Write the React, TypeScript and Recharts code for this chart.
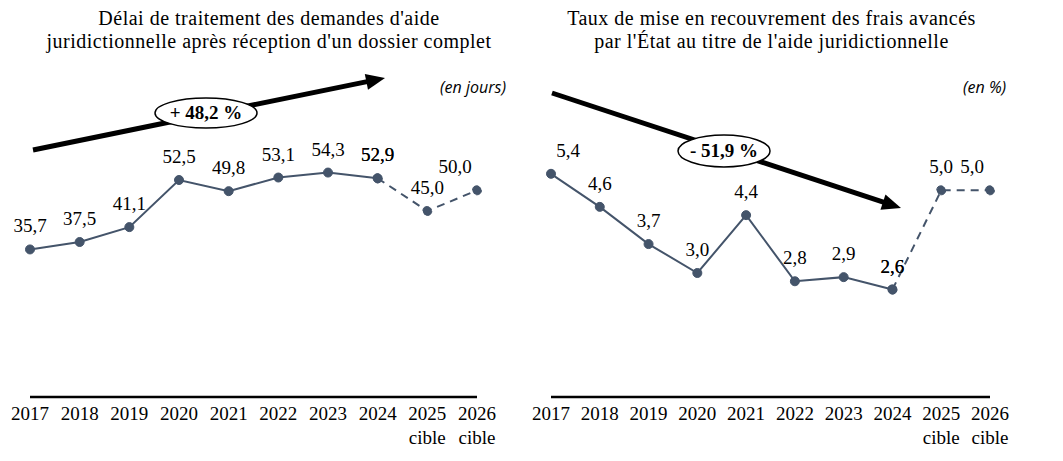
import React from "react";
import { LineChart, Line, XAxis, YAxis, LabelList } from "recharts";

// categories (second word goes on a second line)
const years = ["2017", "2018", "2019", "2020", "2021", "2022", "2023", "2024", "2025 cible", "2026 cible"];

// délai de traitement (en jours)
const delaiReal = [35.7, 37.5, 41.1, 52.5, 49.8, 53.1, 54.3, 52.9, null, null];
const delaiCible = [null, null, null, null, null, null, null, 52.9, 45.0, 50.0];

// taux de mise en recouvrement (en %)
const tauxReal = [5.4, 4.6, 3.7, 3.0, 4.4, 2.8, 2.9, 2.6, null, null];
const tauxCible = [null, null, null, null, null, null, null, 2.6, 5.0, 5.0];

const COLOR = "#44546A";
const SERIF = "'Liberation Serif', 'Times New Roman', serif";
const SANS = "'Open Sans', 'Liberation Sans', sans-serif";

const fmt = (v: number) => v.toFixed(1).replace(".", ",");

const buildRows = (real: (number | null)[], cible: (number | null)[]) =>
  years.map((year, i) => ({ year, real: real[i], cible: cible[i] }));

const delaiRows = buildRows(delaiReal, delaiCible);
const tauxRows = buildRows(tauxReal, tauxCible);

const YearTick = (props: any) => {
  const { x, y, payload } = props;
  const [yr, sub] = String(payload.value).split(" ");
  return (
    <g>
      <text x={x} y={y} dy={15} textAnchor="middle" fontFamily={SERIF} fontSize={19} fill="#000">
        {yr}
      </text>
      {sub && (
        <text x={x} y={y} dy={39} textAnchor="middle" fontFamily={SERIF} fontSize={19} fill="#000">
          {sub}
        </text>
      )}
    </g>
  );
};

const makeLabel = (shift: Record<number, number>) => (props: any) => {
  const { x, y, value, index } = props;
  if (value == null) return null;
  return (
    <text
      x={x + (shift[index] || 0)}
      y={y - 17}
      textAnchor="middle"
      fontFamily={SERIF}
      fontSize={19}
      fill="#000"
    >
      {fmt(value)}
    </text>
  );
};

function Panel({
  rows,
  max,
  left,
  width,
  margin,
  shift,
}: {
  rows: any[];
  max: number;
  left: number;
  width: number;
  margin: { left: number; right: number };
  shift: Record<number, number>;
}) {
  const label = makeLabel(shift);
  return (
    <div style={{ position: "absolute", left, top: 0 }}>
      <LineChart
        width={width}
        height={461}
        data={rows}
        margin={{ top: 149, bottom: 14, left: margin.left, right: margin.right }}
      >
        <YAxis hide domain={[0, max]} />
        <XAxis
          dataKey="year"
          height={50}
          interval={0}
          tickLine={false}
          axisLine={{ stroke: "#000", strokeWidth: 2.5 }}
          tick={<YearTick />}
        />
        <Line
          dataKey="real"
          stroke={COLOR}
          strokeWidth={2}
          dot={{ r: 4.5, fill: COLOR, stroke: COLOR, strokeWidth: 1 }}
          isAnimationActive={false}
        >
          <LabelList dataKey="real" content={label} />
        </Line>
        <Line
          dataKey="cible"
          stroke={COLOR}
          strokeWidth={2}
          strokeDasharray="8 6"
          dot={{ r: 4.5, fill: COLOR, stroke: COLOR, strokeWidth: 1 }}
          isAnimationActive={false}
        >
          <LabelList dataKey="cible" content={label} />
        </Line>
      </LineChart>
    </div>
  );
}

const Arrow = ({ x1, y1, x2, y2 }: { x1: number; y1: number; x2: number; y2: number }) => {
  const dx = x2 - x1;
  const dy = y2 - y1;
  const len = Math.hypot(dx, dy);
  const ux = dx / len;
  const uy = dy / len;
  const head = 19;
  const half = 8;
  const bx = x2 - ux * head;
  const by = y2 - uy * head;
  const pts = `${x2},${y2} ${bx - uy * half},${by + ux * half} ${bx + uy * half},${by - ux * half}`;
  return (
    <g>
      <line x1={x1} y1={y1} x2={bx + ux * 2} y2={by + uy * 2} stroke="#000" strokeWidth={5} />
      <polygon points={pts} fill="#000" />
    </g>
  );
};

const Badge = ({ cx, cy, rx, ry, text }: { cx: number; cy: number; rx: number; ry: number; text: string }) => (
  <g>
    <ellipse cx={cx} cy={cy} rx={rx} ry={ry} fill="#fff" stroke="#000" strokeWidth={1.5} />
    <text x={cx} y={cy + 6} textAnchor="middle" fontFamily={SERIF} fontWeight="bold" fontSize={19} fill="#000">
      {text}
    </text>
  </g>
);

const titleStyle: React.CSSProperties = {
  position: "absolute",
  top: 7,
  fontFamily: SERIF,
  fontSize: 20,
  letterSpacing: 0.5,
  lineHeight: "23px",
  textAlign: "center",
  color: "#000",
  whiteSpace: "nowrap",
};

const unitStyle: React.CSSProperties = {
  position: "absolute",
  top: 76,
  fontFamily: SANS,
  fontStyle: "italic",
  fontSize: 16,
  color: "#000",
};

export default function App() {
  return (
    <div style={{ position: "absolute", left: 0, top: 0, width: 1063, height: 461, background: "#fff", overflow: "hidden" }}>
      <div style={{ ...titleStyle, left: 4, width: 530 }}>
        Délai de traitement des demandes d'aide
        <br />
        juridictionnelle après réception d'un dossier complet
      </div>
      <div style={{ ...titleStyle, left: 530, width: 483 }}>
        Taux de mise en recouvrement des frais avancés
        <br />
        par l'État au titre de l'aide juridictionnelle
      </div>
      <div style={{ ...unitStyle, left: 440 }}>(en jours)</div>
      <div style={{ ...unitStyle, left: 963 }}>(en %)</div>

      <Panel rows={delaiRows} max={60} left={0} width={530} margin={{ left: 30, right: 53 }} shift={{ 9: -22 }} />
      <Panel rows={tauxRows} max={6} left={530} width={533} margin={{ left: 21, right: 73 }} shift={{ 0: 17, 9: -18 }} />

      <svg width={1063} height={461} style={{ position: "absolute", left: 0, top: 0, pointerEvents: "none" }}>
        <Arrow x1={33} y1={150} x2={385} y2={78} />
        <Arrow x1={552} y1={93} x2={901} y2={208} />
        <Badge cx={206} cy={113} rx={51} ry={15} text="+ 48,2 %" />
        <Badge cx={724} cy={151} rx={46} ry={16} text="- 51,9 %" />
      </svg>
    </div>
  );
}
